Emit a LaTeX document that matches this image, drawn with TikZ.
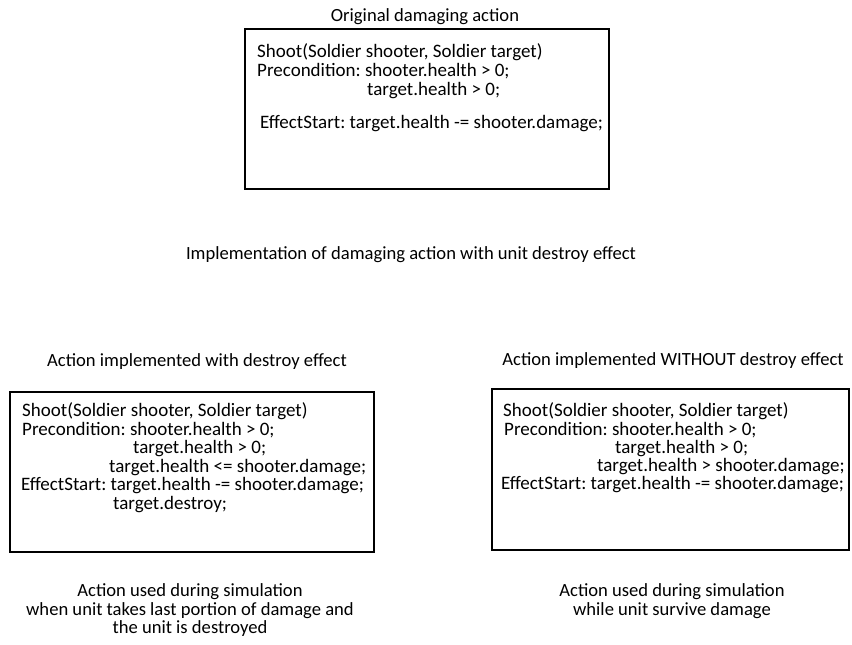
\documentclass[tikz,border=0pt]{standalone}
\usepackage{fontspec}
\setmainfont{Carlito}
\frenchspacing
\begin{document}
\begin{tikzpicture}[x=1pt,y=-1pt,
  code/.style={anchor=base west,inner sep=0pt,font=\fontsize{19}{22}\selectfont},
  caption/.style={anchor=base,inner sep=0pt,font=\fontsize{18.6}{22}\selectfont},
  box/.style={draw=black,line width=1.6pt}]
\useasboundingbox (0,0) rectangle (852,645);
% top box
\draw[box] (245,29) rectangle (609,189);
\node[caption] (t0) at (425,21) {Original damaging action};
\node[code] (a1) at (257,57) {Shoot(Soldier shooter, Soldier target)};
\node[code] (a2) at (257,76) {Precondition: shooter.health > 0;};
\node[code] (a3) at (367,95) {target.health > 0;};
\node[code] (a4) at (260,128) {EffectStart: target.health -= shooter.damage;};
\node[caption] (mid) at (411,259) {Implementation of damaging action with unit destroy effect};
% left
\node[caption] (lh) at (197,366) {Action implemented with destroy effect};
\draw[box] (10,392) rectangle (374,552);
\node[code] (b1) at (22,416) {Shoot(Soldier shooter, Soldier target)};
\node[code] (b2) at (22,435) {Precondition: shooter.health > 0;};
\node[code] (b3) at (133,453) {target.health > 0;};
\node[code] (b4) at (109,472) {target.health <= shooter.damage;};
\node[code] (b5) at (21,490) {EffectStart: target.health -= shooter.damage;};
\node[code] (b6) at (113,509) {target.destroy;};
\node[caption] (lf1) at (190,596) {Action used during simulation};
\node[caption] (lf2) at (190,615) {when unit takes last portion of damage and};
\node[caption] (lf3) at (190,633) {the unit is destroyed};
% right
\node[caption] (rh) at (673,365) {Action implemented WITHOUT destroy effect};
\draw[box] (492,389) rectangle (849,550);
\node[code] (c1) at (503,416) {Shoot(Soldier shooter, Soldier target)};
\node[code] (c2) at (504,435) {Precondition: shooter.health > 0;};
\node[code] (c3) at (615,453) {target.health > 0;};
\node[code] (c4) at (597,471) {target.health > shooter.damage;};
\node[code] (c5) at (501,489) {EffectStart: target.health -= shooter.damage;};
\node[caption] (rf1) at (672,596) {Action used during simulation};
\node[caption] (rf2) at (672,615) {while unit survive damage};
\end{tikzpicture}
\end{document}
